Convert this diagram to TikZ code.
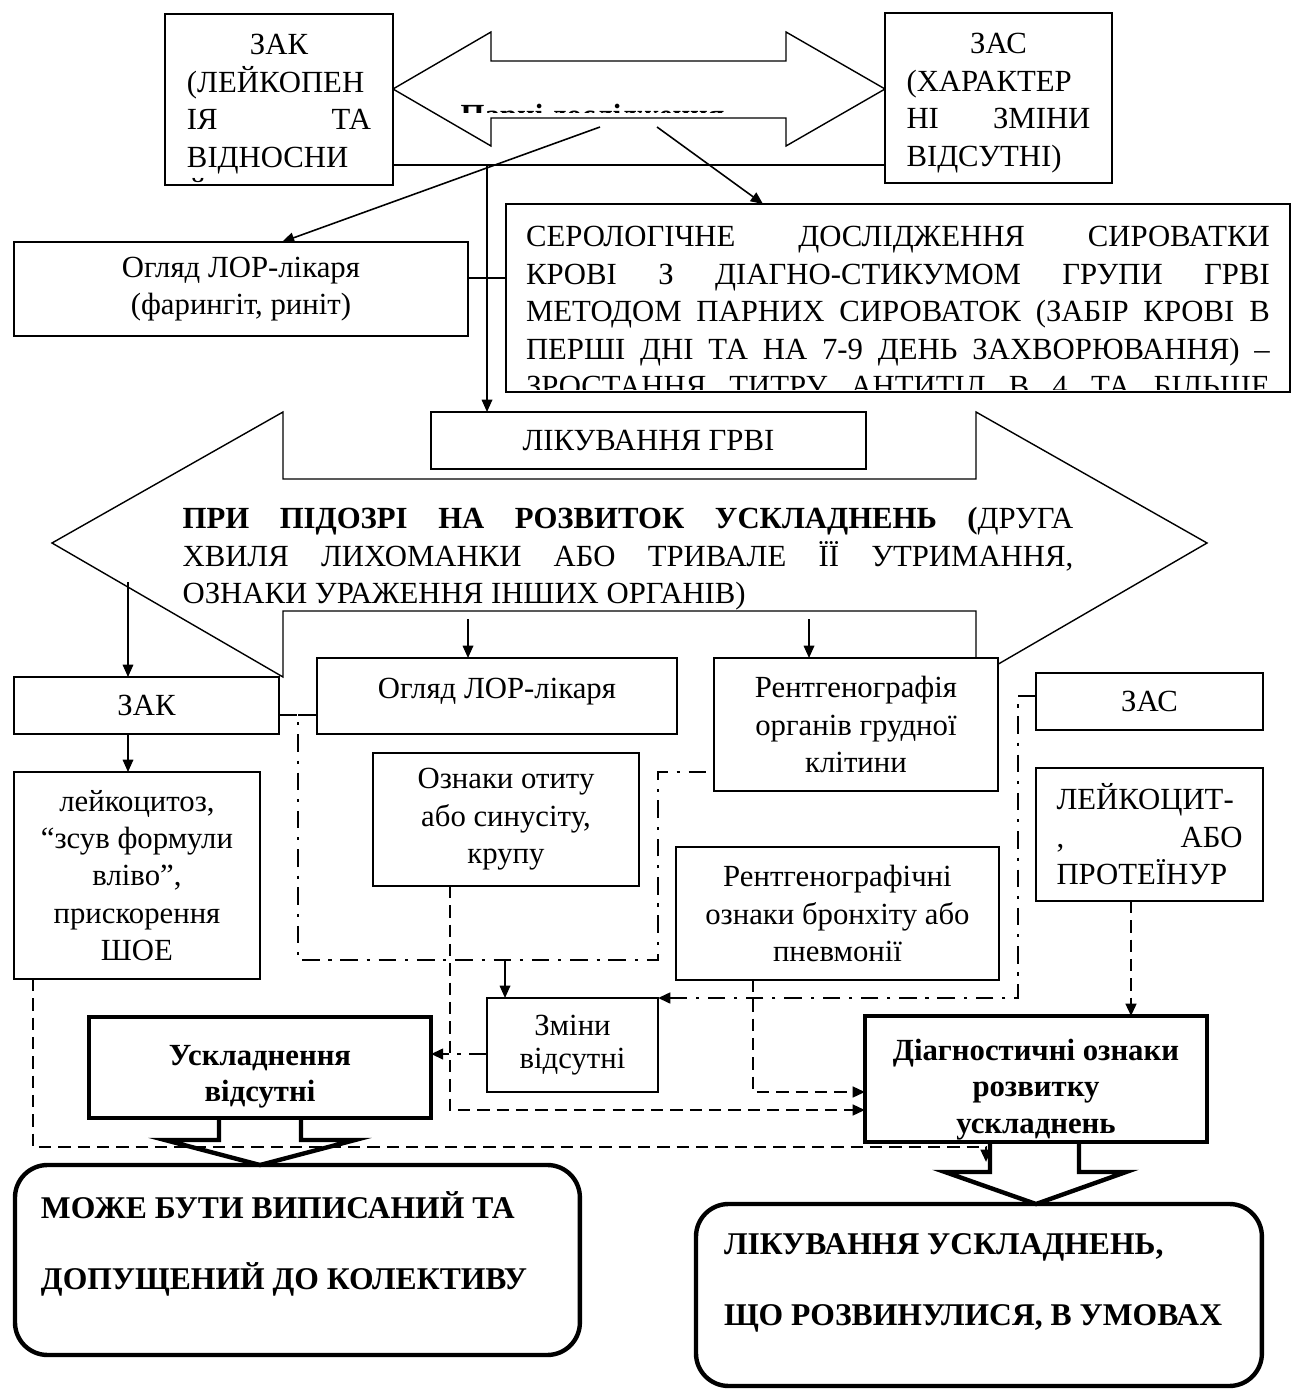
\documentclass[tikz,border=0pt]{standalone}
\usepackage{fontspec}
\setmainfont{Liberation Serif}
\usetikzlibrary{arrows.meta}

% text block whose baseline is its first line
\newcommand{\topblock}[2]{\parbox[t]{#1}{\centering #2}}
\newcommand{\topblockl}[2]{\parbox[t]{#1}{\raggedright #2}}

\tikzset{
  plainbox/.style={draw, fill=white, line width=0.9pt, align=center,
    anchor=north west, inner sep=4pt, outer sep=0pt},
  boldbox/.style={plainbox, line width=2.5pt,
    font=\fontsize{17.5pt}{21pt}\selectfont\bfseries},
  roundbox/.style={boldbox, rounded corners=0.65cm,
    font=\fontsize{18pt}{40.8pt}\selectfont\bfseries},
  topset/.style 2 args={inner ysep=0pt, text height=#1, text depth=#2},
  arrowhd/.style={-{Triangle[length=7pt,width=6pt]}},
  arr/.style={arrowhd, line width=0.9pt},
  dsh/.style={line width=1.5pt, dash pattern=on 7pt off 4pt},
  ddline/.style={line width=1.6pt, dash pattern=on 10pt off 5pt on 1.8pt off 5pt},
  blockarrow/.style={line width=2.5pt, line join=miter}
}

\begin{document}
\begin{tikzpicture}[x=0.02cm, y=-0.02cm, line width=0.8pt,
    font=\fontsize{17.5pt}{21.3pt}\selectfont]
  \useasboundingbox (0,0) rectangle (1294,1391);

  % TOP DOUBLE ARROW (clipped caption inside)
  \draw (393,89) -- (491,32) -- (491,61) -- (786,61) -- (786,32) -- (885,89)
     -- (786,146) -- (786,118) -- (491,118) -- (491,146) -- cycle;
  \begin{scope}
    \clip (400,61) rectangle (880,113);
    \node[anchor=base west, inner sep=0pt, font=\fontsize{17.5pt}{21pt}\selectfont\bfseries]
      (pairs) at (460,126) {Парні дослідження};
  \end{scope}

  % TOP BOXES
  \begin{scope}
    \clip (165,14) rectangle (393,183);
    \node[plainbox, draw=none, topset={0.82cm}{2.6cm}, minimum width=4.56cm] (zakTop) at (165,14) {
      \topblock{3.68cm}{ЗАК\\
      \makebox[3.68cm][l]{(ЛЕЙКОПЕН}\\
      \makebox[3.68cm][s]{ІЯ ТА}\\
      \makebox[3.68cm][l]{ВІДНОСНИ}\\
      \makebox[3.68cm][l]{Й}}};
  \end{scope}
  \draw[line width=0.9pt] (zakTop.north west) rectangle (zakTop.south east);

  \node[plainbox, topset={0.82cm}{2.58cm}, minimum width=4.54cm] (zasTop) at (885,13) {
    \topblock{3.68cm}{ЗАС\\
    \makebox[3.68cm][l]{(ХАРАКТЕР}\\
    \makebox[3.68cm][s]{НІ ЗМІНИ}\\
    \makebox[3.68cm][l]{ВІДСУТНІ)}}};

  \node[plainbox, minimum width=9.08cm, minimum height=1.88cm] (lor1) at (14,242)
    {Огляд ЛОР-лікаря\\(фарингіт, риніт)};

  \begin{scope}
    \clip (506,204) rectangle (1290,390);
    \node[plainbox, draw=none, topset={0.86cm}{2.9cm}, minimum width=15.68cm] (sero) at (506,204) {
      \topblock{14.88cm}{%
      \makebox[14.88cm][s]{СЕРОЛОГІЧНЕ ДОСЛІДЖЕННЯ СИРОВАТКИ}\\
      \makebox[14.88cm][s]{КРОВІ З ДІАГНО-СТИКУМОМ ГРУПИ ГРВІ}\\
      \makebox[14.88cm][s]{МЕТОДОМ ПАРНИХ СИРОВАТОК (ЗАБІР КРОВІ В}\\
      \makebox[14.88cm][s]{ПЕРШІ ДНІ ТА НА 7-9 ДЕНЬ ЗАХВОРЮВАННЯ) –}\\
      \makebox[14.88cm][s]{ЗРОСТАННЯ ТИТРУ АНТИТІЛ В 4 ТА БІЛЬШЕ}}};
  \end{scope}
  \draw[line width=0.9pt] (sero.north west) rectangle (sero.south east);

  % WIDE DOUBLE ARROW
  \draw (283,412) -- (52,543) -- (283,677) -- (283,611) -- (976,611) -- (976,677)
     -- (1207,543) -- (976,412) -- (976,479) -- (283,479) -- cycle;
  \node[align=center, inner sep=0pt] (suspect) at (628,559) {
    \makebox[17.82cm][s]{\textbf{ПРИ ПІДОЗРІ НА РОЗВИТОК УСКЛАДНЕНЬ (}ДРУГА}\\
    \makebox[17.82cm][s]{ХВИЛЯ ЛИХОМАНКИ АБО ТРИВАЛЕ ЇЇ УТРИМАННЯ,}\\
    \makebox[17.82cm][l]{ОЗНАКИ УРАЖЕННЯ ІНШИХ ОРГАНІВ)}};

  \node[plainbox, minimum width=8.7cm, minimum height=1.14cm] (treat) at (431,412) {ЛІКУВАННЯ ГРВІ};

  % EXAMINATION BOXES
  \node[plainbox, minimum width=5.3cm, minimum height=1.14cm] (zak2) at (14,677) {ЗАК};
  \node[plainbox, minimum width=4.92cm, minimum height=4.14cm] (leuk) at (14,772)
    {лейкоцитоз,\\“зсув формули\\вліво”,\\прискорення\\ШОЕ};
  \node[plainbox, topset={0.82cm}{0.7cm}, minimum width=7.2cm] (lor2) at (317,658) {Огляд ЛОР-лікаря};
  \node[plainbox, minimum width=5.32cm, minimum height=2.66cm] (otit) at (373,753)
    {Ознаки отиту\\або синусіту,\\крупу};
  \node[plainbox, minimum width=5.68cm, minimum height=2.66cm] (rentg) at (714,658)
    {Рентгенографія\\органів грудної\\клітини};
  \node[plainbox, minimum width=4.54cm, minimum height=1.14cm] (zas2) at (1036,673) {ЗАС};
  \node[plainbox, minimum width=4.54cm, minimum height=2.66cm] (leukoc) at (1036,768) {
    \makebox[3.72cm][l]{ЛЕЙКОЦИТ-}\\
    \makebox[3.72cm][s]{, АБО}\\
    \makebox[3.72cm][l]{ПРОТЕЇНУР}};
  \node[plainbox, minimum width=6.46cm, minimum height=2.66cm] (rentg2) at (676,847)
    {Рентгенографічні\\ознаки бронхіту або\\пневмонії};
  \node[plainbox, minimum width=3.42cm, minimum height=1.88cm,
    font=\fontsize{17.5pt}{18.5pt}\selectfont] (zmin) at (487,998) {Зміни\\відсутні};

  % OUTCOMES
  \node[boldbox, topset={0.96cm}{1.06cm}, minimum width=6.84cm] (nocompl) at (89,1017)
    {\topblock{6cm}{Ускладнення\\відсутні}};
  \node[boldbox, topset={0.88cm}{1.64cm}, minimum width=6.84cm] (diag) at (865,1016)
    {\topblock{6.4cm}{Діагностичні ознаки\\розвитку\\ускладнень}};
  \node[roundbox, topset={1.06cm}{2.74cm}, inner xsep=0.52cm] (discharge) at (15,1165)
    {\topblockl{10.26cm}{\mbox{МОЖЕ БУТИ ВИПИСАНИЙ ТА}\\\mbox{ДОПУЩЕНИЙ ДО КОЛЕКТИВУ}}};
  \node[roundbox, topset={1.0cm}{2.64cm}, inner xsep=0.56cm] (comptreat) at (696,1204)
    {\topblockl{10.2cm}{\mbox{ЛІКУВАННЯ УСКЛАДНЕНЬ,}\\\mbox{ЩО РОЗВИНУЛИСЯ, В УМОВАХ}}};

  % BLOCK ARROWS DOWN
  \draw[blockarrow] (219,0 |- nocompl.south) -- (219,1140) -- (165,1140) -- (260,1165)
     -- (355,1140) -- (301,1140) -- (301,0 |- nocompl.south);
  \draw[blockarrow] (990,0 |- diag.south) -- (990,1172) -- (945,1172) -- (1036,1204)
     -- (1126,1172) -- (1079,1172) -- (1079,0 |- diag.south);

  % TOP CONNECTORS
  \coordinate (bus) at (487,165);
  \coordinate (fanL) at (600,127);
  \coordinate (fanR) at (657,127);
  \draw[line width=0.9pt] (zakTop.south east |- bus) -- (zasTop.south west |- bus);
  \draw[arr] (bus) -- (bus |- treat.north);
  \draw[arr] (fanL) -- (282,0 |- lor1.north);
  \draw[arr] (fanR) -- (763,0 |- sero.north);
  \draw[line width=0.9pt] (lor1.east |- 0,278) -- (sero.west |- 0,278);

  % FROM THE WIDE ARROW
  \coordinate (h1) at (128,582);
  \coordinate (h2) at (468,619);
  \coordinate (h3) at (809,619);
  \draw[arr] (h1) -- (h1 |- zak2.north);
  \draw[arr] (h2) -- (h2 |- lor2.north);
  \draw[arr] (h3) -- (h3 |- rentg.north);
  \draw[arr] (zak2.south -| h1) -- (leuk.north -| h1);

  % DASH-DOT LINKS
  \draw[ddline] (zak2.east |- 0,715) -| (298,960) -| (658,772) -- (rentg.west |- 0,772);
  \draw[ddline] (298,715) -- (lor2.west |- 0,715);
  \draw[arr] (505,960) -- (505,0 |- zmin.north);
  \draw[ddline, arrowhd] (zas2.west |- 0,696) -| (1018,998) -- (zmin.north east);
  \draw[ddline, arrowhd] (zmin.west |- 0,1054) -- (nocompl.east |- 0,1054);

  % DASHED LINKS
  \coordinate (dropEnd) at (986,1162);
  \draw[dsh, arrowhd] (450,0 |- otit.south) |- (diag.west |- 0,1110);
  \draw[dsh, arrowhd] (753,0 |- rentg2.south) |- (diag.west |- 0,1092);
  \draw[dsh, arrowhd] (1131,0 |- leukoc.south) -- (1131,0 |- diag.north);
  \draw[dsh, arrowhd] (33,0 |- leuk.south) |- (dropEnd |- 0,1147) -- (dropEnd);
\end{tikzpicture}
\end{document}
